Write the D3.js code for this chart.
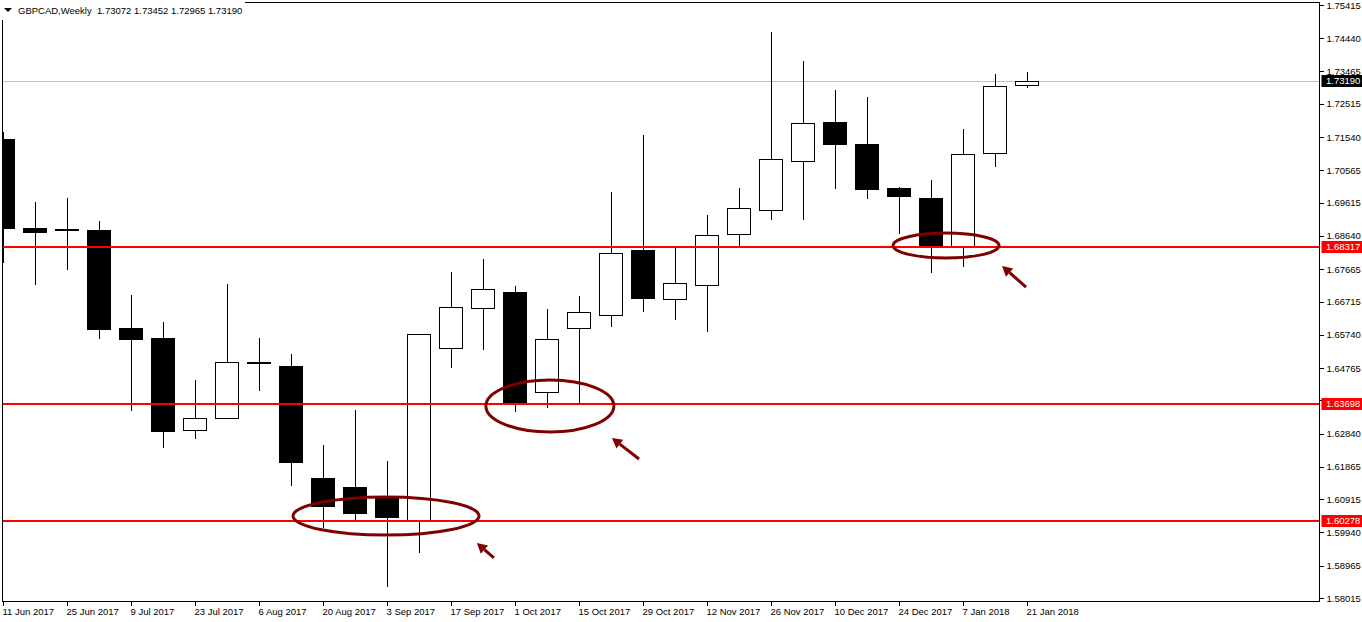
<!DOCTYPE html>
<html>
<head>
<meta charset="utf-8">
<script src="https://cdn.jsdelivr.net/npm/d3@7/dist/d3.min.js"></script>
<style>
  html, body { margin: 0; padding: 0; background: #fff; }
  svg { display: block; }
  text { font-family: "Liberation Sans", Arial, sans-serif; }
</style>
</head>
<body>
<svg id="chart" width="1362" height="622"></svg>
<script>
// ---------------- DATA ----------------
const symbolTitle = "GBPCAD,Weekly";
const weeks = ["11 Jun 2017","18 Jun 2017","25 Jun 2017","2 Jul 2017","9 Jul 2017","16 Jul 2017","23 Jul 2017","30 Jul 2017","6 Aug 2017","13 Aug 2017","20 Aug 2017","27 Aug 2017","3 Sep 2017","10 Sep 2017","17 Sep 2017","24 Sep 2017","1 Oct 2017","8 Oct 2017","15 Oct 2017","22 Oct 2017","29 Oct 2017","5 Nov 2017","12 Nov 2017","19 Nov 2017","26 Nov 2017","3 Dec 2017","10 Dec 2017","17 Dec 2017","24 Dec 2017","31 Dec 2017","7 Jan 2018","14 Jan 2018","21 Jan 2018"];
const openPrices  = [1.71483,1.68872,1.68828,1.68813,1.65938,1.65645,1.62945,1.63298,1.64949,1.64823,1.61537,1.61273,1.61009,1.60275,1.65351,1.66525,1.66994,1.64060,1.65938,1.66319,1.68226,1.66789,1.67200,1.68696,1.69400,1.70838,1.71982,1.71337,1.70046,1.69752,1.68330,1.71073,1.73072];
const highPrices  = [1.71688,1.69635,1.69752,1.69078,1.66906,1.66114,1.64412,1.67229,1.65645,1.65175,1.62505,1.63532,1.62035,1.65762,1.67581,1.67963,1.67170,1.66495,1.66877,1.69928,1.71601,1.68344,1.69253,1.70046,1.74623,1.73772,1.72921,1.72716,1.70084,1.70281,1.71777,1.73390,1.73452];
const lowPrices   = [1.67845,1.67200,1.67640,1.65624,1.63512,1.62417,1.62681,1.63268,1.64098,1.61311,1.60070,1.60304,1.58347,1.59345,1.64773,1.65293,1.63482,1.63599,1.63698,1.65976,1.66416,1.66181,1.65829,1.68330,1.69107,1.69107,1.70025,1.69732,1.68705,1.67552,1.67737,1.70671,1.72965];
const closePrices = [1.68872,1.68740,1.68799,1.65918,1.65615,1.62925,1.63298,1.64941,1.64926,1.62015,1.60724,1.60519,1.60401,1.65762,1.66554,1.67082,1.63737,1.65615,1.66407,1.68138,1.66827,1.67258,1.68667,1.69459,1.70897,1.71953,1.71345,1.70025,1.69820,1.68330,1.71043,1.73038,1.73190];
const priceTicks = [1.75415,1.74440,1.73465,1.72515,1.71540,1.70565,1.69615,1.68640,1.67665,1.66715,1.65740,1.64765,1.63815,1.62840,1.61865,1.60915,1.59940,1.58965,1.58015];
const supportLevels = [1.68317,1.63698,1.60278];
const bidLevel = 1.73190;
// annotations (bar index, price)
const ellipseCenters = [[11.97,1.60421],[17.09,1.63649],[29.47,1.68358]];
const ellipseRadii = [[93,19],[64,26],[53,12.5]];
const arrowTails = [[15.34,1.59189],[19.875,1.62093],[31.97,1.67140]];
const arrowTips  = [[14.81,1.59629],[19.03,1.62710],[31.22,1.67757]];

// ---------------- LAYOUT ----------------
const svg = d3.select("#chart");
const plot = {left: 2.5, top: 2.5, right: 1319.5, bottom: 601.5};
const x = d3.scaleLinear().domain([0, weeks.length - 1]).range([3, 1027]);
const y = d3.scaleLinear().domain([1.58015, 1.75415]).range([598, 5]);
const maroon = "#800000";

svg.append("defs").append("clipPath").attr("id","clip")
  .append("rect").attr("x", 3).attr("y", 3).attr("width", 1316).attr("height", 598);

const g = svg.append("g").attr("clip-path","url(#clip)");

// bid line
g.append("line").attr("x1",3).attr("x2",plot.right).attr("y1",Math.round(y(bidLevel))+0.5).attr("y2",Math.round(y(bidLevel))+0.5)
  .attr("stroke","#c0c0c0").attr("stroke-width",1);

// candles
const candles = weeks.map((w,i)=>({i, o:openPrices[i], h:highPrices[i], l:lowPrices[i], c:closePrices[i]}));
const cg = g.append("g").attr("shape-rendering","crispEdges");
cg.selectAll("line.wick").data(candles).join("line").attr("class","wick")
  .attr("x1", d=>Math.round(x(d.i))+0.5).attr("x2", d=>Math.round(x(d.i))+0.5)
  .attr("y1", d=>Math.round(y(d.h))).attr("y2", d=>Math.round(y(d.l)))
  .attr("stroke","#000").attr("stroke-width",1);
cg.selectAll("rect.body").data(candles).join("rect").attr("class","body")
  .attr("x", d=>Math.round(x(d.i))-11.5).attr("width",23)
  .attr("y", d=>Math.round(y(Math.max(d.o,d.c)))+0.5)
  .attr("height", d=>Math.max(1, Math.round(y(Math.min(d.o,d.c))) - Math.round(y(Math.max(d.o,d.c)))))
  .attr("fill", d=> d.c > d.o ? "#fff" : "#000")
  .attr("stroke","#000").attr("stroke-width",1);

// support lines
g.selectAll("line.sup").data(supportLevels).join("line").attr("class","sup")
  .attr("x1",3).attr("x2",plot.right)
  .attr("y1", d=>Math.round(y(d))).attr("y2", d=>Math.round(y(d)))
  .attr("stroke","#ff0000").attr("stroke-width",2);

// ellipses
svg.selectAll("ellipse.ann").data(ellipseCenters).join("ellipse").attr("class","ann")
  .attr("cx", d=>x(d[0])).attr("cy", d=>y(d[1]))
  .attr("rx", (d,i)=>ellipseRadii[i][0]).attr("ry", (d,i)=>ellipseRadii[i][1])
  .attr("fill","none").attr("stroke",maroon).attr("stroke-width",3);

// arrows
arrowTips.forEach((tip,i)=>{
  const tail = arrowTails[i];
  const x1 = x(tail[0]), y1 = y(tail[1]), x2 = x(tip[0]), y2 = y(tip[1]);
  const ang = Math.atan2(y2-y1, x2-x1);
  const headLen = 10, headW = 5.5;
  const bx = x2 - headLen*Math.cos(ang), by = y2 - headLen*Math.sin(ang);
  svg.append("line").attr("x1",x1).attr("y1",y1).attr("x2",bx).attr("y2",by)
    .attr("stroke",maroon).attr("stroke-width",3);
  const px = -Math.sin(ang)*headW, py = Math.cos(ang)*headW;
  svg.append("path").attr("d",`M${x2},${y2}L${bx+px},${by+py}L${bx-px},${by-py}Z`).attr("fill",maroon);
});

// frame
svg.append("rect").attr("x",plot.left).attr("y",plot.top)
  .attr("width",plot.right-plot.left).attr("height",plot.bottom-plot.top)
  .attr("fill","none").attr("stroke","#000").attr("stroke-width",1).attr("shape-rendering","crispEdges");

// right axis (the 1.63815 label sits under the red level tag, as in the original)
const yAxis = d3.axisRight(y).tickValues(priceTicks).tickSize(4).tickPadding(3).tickFormat(d3.format(".5f"));
const ya = svg.append("g").attr("transform",`translate(${plot.right},0)`).call(yAxis);
ya.select(".domain").remove();
ya.selectAll("line").attr("shape-rendering","crispEdges");
ya.selectAll("text").attr("font-size","9.5px").attr("fill","#000").attr("font-family","Liberation Sans, Arial, sans-serif");

// bottom axis
const xAxis = d3.axisBottom(x).tickValues(d3.range(0, weeks.length, 2)).tickSize(4).tickPadding(3).tickFormat(i=>weeks[i]);
const xa = svg.append("g").attr("transform",`translate(0,${plot.bottom})`).call(xAxis);
xa.select(".domain").remove();
xa.selectAll("line").attr("shape-rendering","crispEdges");
xa.selectAll("text").attr("text-anchor","start").attr("dx","-1").attr("font-size","9.5px").attr("fill","#000").attr("font-family","Liberation Sans, Arial, sans-serif");

// price labels
const labels = [{v:bidLevel, bg:"#000"}].concat(supportLevels.map(v=>({v, bg:"#ff0000"})));
const lg = svg.selectAll("g.plabel").data(labels).join("g").attr("class","plabel")
  .attr("transform", d=>`translate(${plot.right+2},${Math.round(y(d.v))})`);
lg.append("rect").attr("x",0).attr("y",-6).attr("width",41).attr("height",12).attr("fill",d=>d.bg);
lg.append("text").attr("x",4.5).attr("y",0).attr("dy","0.35em").attr("font-size","9.5px").attr("fill","#fff")
  .text(d=>d3.format(".5f")(d.v));

// title
svg.append("rect").attr("x",0).attr("y",0).attr("width",245).attr("height",20).attr("fill","#fff");
svg.append("path").attr("d","M4,8L12,8L8,12Z").attr("fill","#000");
svg.append("text").attr("x",18).attr("y",14).attr("font-size","9.5px").attr("fill","#000")
  .text(`${symbolTitle}  ${d3.format(".5f")(openPrices[32])} ${d3.format(".5f")(highPrices[32])} ${d3.format(".5f")(lowPrices[32])} ${d3.format(".5f")(closePrices[32])}`)
  .attr("xml:space","preserve").style("white-space","pre");
</script>
</body>
</html>
